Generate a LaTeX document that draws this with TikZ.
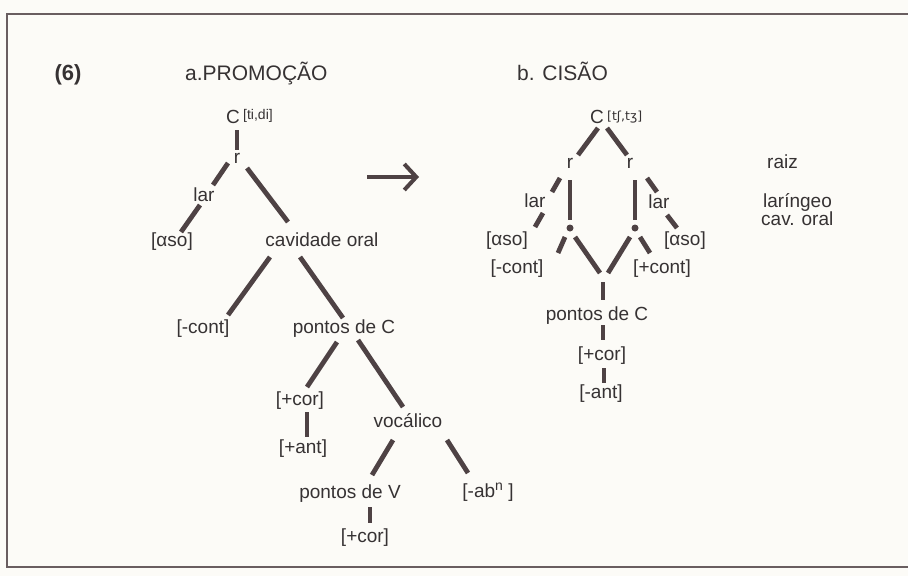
\documentclass[tikz,border=0pt]{standalone}
\usepackage{fontspec}
\setmainfont{Liberation Sans}
\newfontfamily\ipafont{DejaVu Sans}
\usetikzlibrary{arrows.meta,calc}
\definecolor{ink}{HTML}{363233}
\definecolor{lineink}{HTML}{4E4244}
\definecolor{paper}{HTML}{FCFBF7}
\begin{document}
\begin{tikzpicture}[x=1pt,y=-1pt,
  lbl/.style={inner sep=0pt, text=ink, text height=10pt, text depth=0pt, font=\fontsize{19}{22}\selectfont},
  ttl/.style={inner sep=0pt, text=ink, font=\fontsize{21}{24}\selectfont},
  sm/.style={inner sep=0pt, text=ink, font=\fontsize{14}{16}\selectfont},
  conn/.style={draw=lineink, line width=4.8pt},
  dotn/.style={circle, fill=lineink, inner sep=0pt, minimum size=7pt},
  framel/.style={draw=lineink!85, line width=2.5pt}]
\fill[paper] (0,0) rectangle (908,576);
\useasboundingbox (0,0) rectangle (908,576);
\draw[framel] (908,14) -- (7,14) -- (7,567) -- (908,567);

% titles
\node[ttl, anchor=base, font=\bfseries\fontsize{22}{24}\selectfont] (six) at (68,80) {(6)};
\node[ttl, anchor=base west] (ttlA) at (185,80) {a.PROMOÇÃO};
\node[ttl, anchor=base west] (ttlB) at (517,80) {b. CISÃO};

% ---- tree a
\node[lbl] (Ca) at (233,118) {C};
\node[sm, anchor=west] (Caf) at (243,116) {[ti,di]};
\node[lbl] (ra) at (237,158) {r};
\node[lbl] (lara) at (204,196) {lar};
\node[lbl] (asoa) at (172,241) {[αso]};
\node[lbl] (cava) at (322,241) {cavidade oral};
\node[lbl] (conta) at (203,328) {[-cont]};
\node[lbl] (pca) at (344,328) {pontos de C};
\node[lbl] (cor1) at (300,400) {[+cor]};
\node[lbl] (ant1) at (303,448) {[+ant]};
\node[lbl] (voc) at (408,422) {vocálico};
\node[lbl] (pv) at (350,493) {pontos de V};
\node[lbl] (ab) at (488,492) {[-ab\raisebox{7pt}{\fontsize{14}{15}\selectfont n} ]};
\node[lbl] (cor2) at (365,537) {[+cor]};

\draw[conn] ([shift={(4,12)}]Ca.center) -- ([shift={(0,-8)}]ra.center);
\draw[conn] ([shift={(-9,5)}]ra.center) -- ([shift={(9,-11)}]lara.center);
\draw[conn] ([shift={(-4,9)}]lara.center) -- ([shift={(9,-9)}]asoa.center);
\draw[conn] ([shift={(10,10)}]ra.center) -- ([shift={(-34,-19)}]cava.center);
\draw[conn] ([shift={(-52,16)}]cava.center) -- ([shift={(25,-13)}]conta.center);
\draw[conn] ([shift={(-22,16)}]cava.center) -- ([shift={(-1,-10)}]pca.center);
\draw[conn] ([shift={(-7,14)}]pca.center) -- ([shift={(7,-13)}]cor1.center);
\draw[conn] ([shift={(7,12)}]cor1.center) -- ([shift={(4,-11)}]ant1.center);
\draw[conn] ([shift={(14,12)}]pca.center) -- ([shift={(-5,-15)}]voc.center);
\draw[conn] ([shift={(-15,18)}]voc.center) -- ([shift={(22,-18)}]pv.center);
\draw[conn] ([shift={(39,18)}]voc.center) -- ([shift={(-20,-19)}]ab.center);
\draw[conn] ([shift={(20,14)}]pv.center) -- ([shift={(5,-14)}]cor2.center);

% arrow
\coordinate (arS) at (367,177);
\coordinate (arE) at (419,177);
\draw[conn, line width=4pt, -{Straight Barb[length=12pt,width=26pt,line width=4pt]}] (arS) -- (arE);

% ---- tree b
\node[lbl] (Cb) at (597,118) {C};
\node[sm, anchor=west, font=\ipafont\fontsize{12.5}{14}\selectfont] (Cbf) at (607,117) {[tʃ,tʒ]};
\node[lbl] (rL) at (570,163) {r};
\node[lbl] (rR) at (630,163) {r};
\node[lbl] (larL) at (535,202) {lar};
\node[lbl] (larR) at (659,203) {lar};
\node[lbl] (asoL) at (507,240) {[αso]};
\node[lbl] (asoR) at (685,240) {[αso]};
\node[dotn] (dotL) at (570,228) {};
\node[dotn] (dotR) at (635,228) {};
\node[lbl] (contL) at (517,268) {[-cont]};
\node[lbl] (contR) at (662,268) {[+cont]};
\coordinate (jn) at (604,278);
\node[lbl] (pcb) at (597,315) {pontos de C};
\node[lbl] (corb) at (602,355) {[+cor]};
\node[lbl] (antb) at (601,393) {[-ant]};

\draw[conn] ([shift={(1,10)}]Cb.center) -- ([shift={(8,-8)}]rL.center);
\draw[conn] ([shift={(10,10)}]Cb.center) -- ([shift={(-3,-8)}]rR.center);
\draw[conn] ([shift={(-10,15)}]rL.center) -- ([shift={(17,-10)}]larL.center);
\draw[conn] ([shift={(8,11)}]larL.center) -- ([shift={(28,-13)}]asoL.center);
\draw[conn] ([shift={(17,15)}]rR.center) -- ([shift={(-2,-11)}]larR.center);
\draw[conn] ([shift={(8,12)}]larR.center) -- ([shift={(-8,-12)}]asoR.center);
\draw[conn] ([shift={(0,17)}]rL.center) -- ([shift={(0,-8)}]dotL.center);
\draw[conn] ([shift={(5,17)}]rR.center) -- ([shift={(0,-8)}]dotR.center);
\draw[conn] ([shift={(-5,9)}]dotL.center) -- ([shift={(41,-15)}]contL.center);
\draw[conn] ([shift={(5,9)}]dotL.center) -- ([shift={(-4,-5)}]jn);
\draw[conn] ([shift={(-5,9)}]dotR.center) -- ([shift={(4,-5)}]jn);
\draw[conn] ([shift={(5,9)}]dotR.center) -- ([shift={(-12,-15)}]contR.center);
\draw[conn] ([shift={(-1,4)}]jn) -- ([shift={(6,-15)}]pcb.center);
\draw[conn] ([shift={(6,10)}]pcb.center) -- ([shift={(1,-15)}]corb.center);
\draw[conn] ([shift={(2,13)}]corb.center) -- ([shift={(3,-10)}]antb.center);

% right labels
\node[lbl, anchor=west] (lraiz) at (767,163) {raiz};
\node[lbl, anchor=west] (llar) at (763,202) {laríngeo};
\node[lbl, anchor=west] (lcav) at (761,220) {cav. oral};
\end{tikzpicture}
\end{document}
